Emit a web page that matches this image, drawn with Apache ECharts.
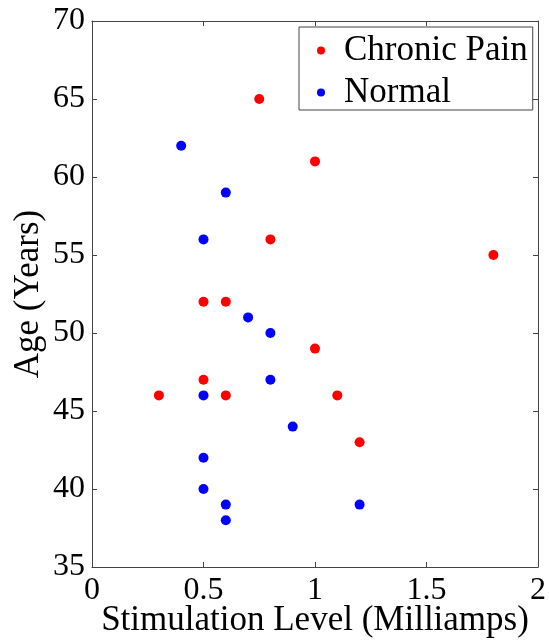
<!DOCTYPE html>
<html>
<head>
<meta charset="utf-8">
<script src="https://cdn.jsdelivr.net/npm/echarts@6/dist/echarts.min.js"></script>
<style>html,body{margin:0;padding:0;background:#fff;}#c{width:549px;height:640px;}</style>
</head>
<body>
<div id="c"></div>
<script>
const seriesNames = ['Chronic Pain', 'Normal'];
const painStim = [0.75, 1.0, 0.8, 1.8, 0.5, 0.6, 1.0, 0.5, 0.3, 0.6, 1.1, 1.2];
const painAge  = [65, 61, 56, 55, 52, 52, 49, 47, 46, 46, 46, 43];
const normalStim = [0.4, 0.6, 0.5, 0.7, 0.8, 0.8, 0.5, 0.9, 0.5, 0.5, 0.6, 1.2, 0.6];
const normalAge  = [62, 59, 56, 51, 50, 47, 46, 44, 42, 40, 39, 39, 38];
const xTicks = [0, 0.5, 1, 1.5, 2];
const yTicks = [35, 40, 45, 50, 55, 60, 65, 70];

const font = '"Liberation Serif", "DejaVu Serif", serif';
const lineColor = '#444';
const zip = (a, b) => a.map((v, i) => [v, b[i]]);

const baseX = {
  type: 'value', min: xTicks[0], max: xTicks[xTicks.length - 1], interval: 0.5,
  axisLine: { show: true, onZero: false, lineStyle: { color: lineColor, width: 1 } },
  axisTick: { show: true, inside: true, length: 5, lineStyle: { color: lineColor } },
  splitLine: { show: false }
};
const baseY = {
  type: 'value', min: yTicks[0], max: yTicks[yTicks.length - 1], interval: 5,
  axisLine: { show: true, onZero: false, lineStyle: { color: lineColor, width: 1 } },
  axisTick: { show: true, inside: true, length: 5, lineStyle: { color: lineColor } },
  splitLine: { show: false }
};

const chart = echarts.init(document.getElementById('c'), null, { renderer: 'canvas' });
chart.setOption({
  backgroundColor: '#fff',
  animation: false,
  grid: { left: 92, right: 11, top: 21, bottom: 73, containLabel: false, outerBoundsMode: 'none' },
  legend: {
    data: seriesNames,
    orient: 'vertical',
    left: 299, top: 27,
    padding: [6, 5, 0, 18],
    itemGap: 7,
    itemWidth: 36, itemHeight: 8,
    icon: 'circle',
    borderColor: '#444', borderWidth: 1,
    backgroundColor: '#fff',
    textStyle: { fontFamily: font, fontSize: 35, color: '#000' }
  },
  xAxis: [
    Object.assign({}, baseX, {
      position: 'bottom',
      name: 'Stimulation Level (Milliamps)', nameLocation: 'middle', nameGap: 36,
      nameMoveOverlap: false,
      nameTextStyle: { fontFamily: font, fontSize: 35, color: '#000' },
      axisLabel: { fontFamily: font, fontSize: 32, color: '#000', margin: 8,
        formatter: v => String(v) }
    }),
    Object.assign({}, baseX, { position: 'top', axisLabel: { show: false } })
  ],
  yAxis: [
    Object.assign({}, baseY, {
      position: 'left',
      name: 'Age (Years)', nameLocation: 'middle', nameGap: 46, nameRotate: 90,
      nameMoveOverlap: false,
      nameTextStyle: { fontFamily: font, fontSize: 35, color: '#000' },
      axisLabel: { fontFamily: font, fontSize: 32, color: '#000', margin: 7 }
    }),
    Object.assign({}, baseY, { position: 'right', axisLabel: { show: false } })
  ],
  series: [
    { name: seriesNames[0], type: 'scatter', symbol: 'circle', symbolSize: 10,
      itemStyle: { color: '#ff0000', opacity: 1 }, xAxisIndex: 0, yAxisIndex: 0,
      data: zip(painStim, painAge) },
    { name: seriesNames[1], type: 'scatter', symbol: 'circle', symbolSize: 10,
      itemStyle: { color: '#0000ff', opacity: 1 }, xAxisIndex: 0, yAxisIndex: 0,
      data: zip(normalStim, normalAge) }
  ]
});
</script>
</body>
</html>
